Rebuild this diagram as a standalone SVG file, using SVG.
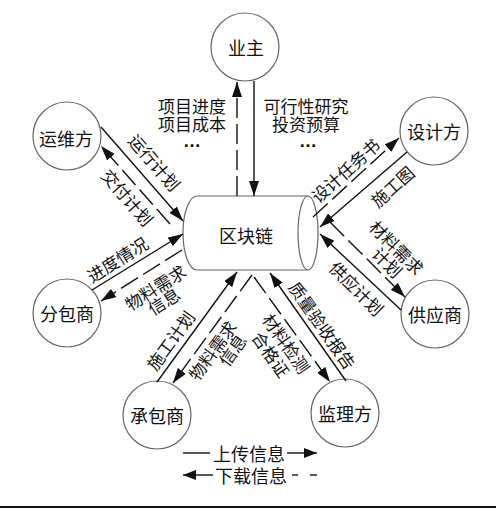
<svg xmlns="http://www.w3.org/2000/svg" width="496" height="508" viewBox="0 0 496 508">
<style>
.nd{fill:#fff;stroke:#666;stroke-width:1.2}
.t{font-family:"Noto Sans CJK SC","Noto Sans",sans-serif;font-size:18px;fill:#111;text-anchor:middle;dominant-baseline:central}
.m{font-family:"Noto Sans CJK SC","Noto Sans",sans-serif;font-size:17px;fill:#111;text-anchor:middle}
.dots{font-family:"Liberation Sans",sans-serif;font-size:18px;font-weight:bold}
.l{font-family:"Noto Sans CJK SC","Noto Sans",sans-serif;font-size:17px;fill:#111;text-anchor:middle;dominant-baseline:central}
.s{stroke:#111;stroke-width:1.4;fill:none}
.d{stroke:#111;stroke-width:1.4;fill:none;stroke-dasharray:20 6}
.a{marker-end:url(#ah)}
</style>
<defs>
<marker id="ah" viewBox="0 0 15 10" refX="15" refY="5" markerWidth="15" markerHeight="10" orient="auto" markerUnits="userSpaceOnUse"><path d="M0,0 L15,5 L0,10 z" fill="#111"/></marker>
<marker id="lh" viewBox="0 0 13 10" refX="13" refY="5" markerWidth="13" markerHeight="10" orient="auto" markerUnits="userSpaceOnUse"><path d="M0,0 L13,5 L0,10 z" fill="#111"/></marker>
</defs>
<rect width="496" height="508" fill="#fff"/>

<g id="blockchain">
<path class="nd" d="M308,196 L197,196 A14,37 0 0 0 197,270 L308,270"/>
<ellipse class="nd" cx="308" cy="233" rx="10" ry="37"/>
<text class="t" x="246" y="235">区块链</text>
</g>

<g id="yezhu"><circle class="nd" cx="245" cy="47" r="34"/><text class="t" x="246" y="47">业主</text></g>
<g id="yunweifang"><circle class="nd" cx="67" cy="136" r="34"/><text class="t" x="66" y="138">运维方</text></g>
<g id="shejifang"><circle class="nd" cx="434" cy="131" r="34"/><text class="t" x="434" y="131">设计方</text></g>
<g id="fenbaoshang"><circle class="nd" cx="67" cy="313" r="34"/><text class="t" x="67" y="313">分包商</text></g>
<g id="gongyingshang"><circle class="nd" cx="435" cy="314" r="34"/><text class="t" x="435" y="314">供应商</text></g>
<g id="chengbaoshang"><circle class="nd" cx="157" cy="415" r="34"/><text class="t" x="157" y="415">承包商</text></g>
<g id="jianlifang"><circle class="nd" cx="345" cy="413" r="34"/><text class="t" x="345" y="413">监理方</text></g>

<g id="connectors">
<line class="d a" x1="237" y1="196" x2="237" y2="82"/>
<line class="s a" x1="254" y1="81" x2="254" y2="196"/>

<line class="s a" x1="101" y1="127" x2="183" y2="221"/>
<line class="d a" x1="170" y1="224" x2="101" y2="146"/>

<line class="s a" x1="92" y1="290" x2="183" y2="234"/>
<line class="d a" x1="182" y1="250" x2="101" y2="301"/>

<line class="d a" x1="313" y1="217" x2="399" y2="138"/>
<line class="s a" x1="407" y1="152" x2="320" y2="227"/>

<line class="d a" x1="330" y1="222" x2="405" y2="297"/>
<line class="s a" x1="401" y1="310" x2="320" y2="234"/>

<line class="s a" x1="157" y1="382" x2="237" y2="272"/>
<line class="d a" x1="252" y1="275" x2="173" y2="383"/>

<line class="d a" x1="254" y1="277" x2="330" y2="382"/>
<line class="s a" x1="346" y1="381" x2="270" y2="273"/>
</g>

<g id="labels">
<text class="m"><tspan x="192" y="113">项目进度</tspan><tspan x="192" y="131">项目成本</tspan><tspan class="dots" x="192" y="147">…</tspan></text>
<text class="m"><tspan x="306" y="113">可行性研究</tspan><tspan x="306" y="131">投资预算</tspan><tspan class="dots" x="308" y="147">…</tspan></text>

<text class="l" transform="translate(155,162) rotate(49)">运行计划</text>
<text class="l" transform="translate(128,197) rotate(49)">交付计划</text>
<text class="l" transform="translate(117,259) rotate(-32)">进度情况</text>
<g transform="translate(155,287) rotate(-32)"><text class="l" x="0" y="0">物料需求</text><text class="l" x="0" y="16">信息</text></g>
<text class="l" transform="translate(345,170) rotate(-42)">设计任务书</text>
<text class="l" transform="translate(392,186) rotate(-42)">施工图</text>
<g transform="translate(397,247) rotate(45)"><text class="l" x="0" y="0">材料需求</text><text class="l" x="4" y="17">计划</text></g>
<text class="l" transform="translate(357,288) rotate(45)">供应计划</text>
<text class="l" transform="translate(170,340) rotate(-54)">施工计划</text>
<g transform="translate(212,350) rotate(-54)"><text class="l" x="0" y="0">物料需求</text><text class="l" x="12" y="16">信息</text></g>
<g transform="translate(287,343) rotate(55)"><text class="l" x="0" y="0">材料检测</text><text class="l" x="0" y="19">合格证</text></g>
<text class="l" transform="translate(323,325) rotate(55)">质量验收报告</text>
</g>

<g id="legend">
<line class="s" x1="183" y1="453" x2="210" y2="453"/>
<text class="t" x="249" y="453">上传信息</text>
<line class="s" x1="287" y1="453" x2="317" y2="453" marker-end="url(#lh)"/>
<line class="s" x1="213" y1="475" x2="183" y2="475" marker-end="url(#lh)"/>
<text class="t" x="251" y="475">下载信息</text>
<line class="s" x1="292" y1="475" x2="298" y2="475"/>
<line class="s" x1="310" y1="475" x2="317" y2="475"/>
</g>
<rect x="0" y="506" width="496" height="2" fill="#111"/>
</svg>
